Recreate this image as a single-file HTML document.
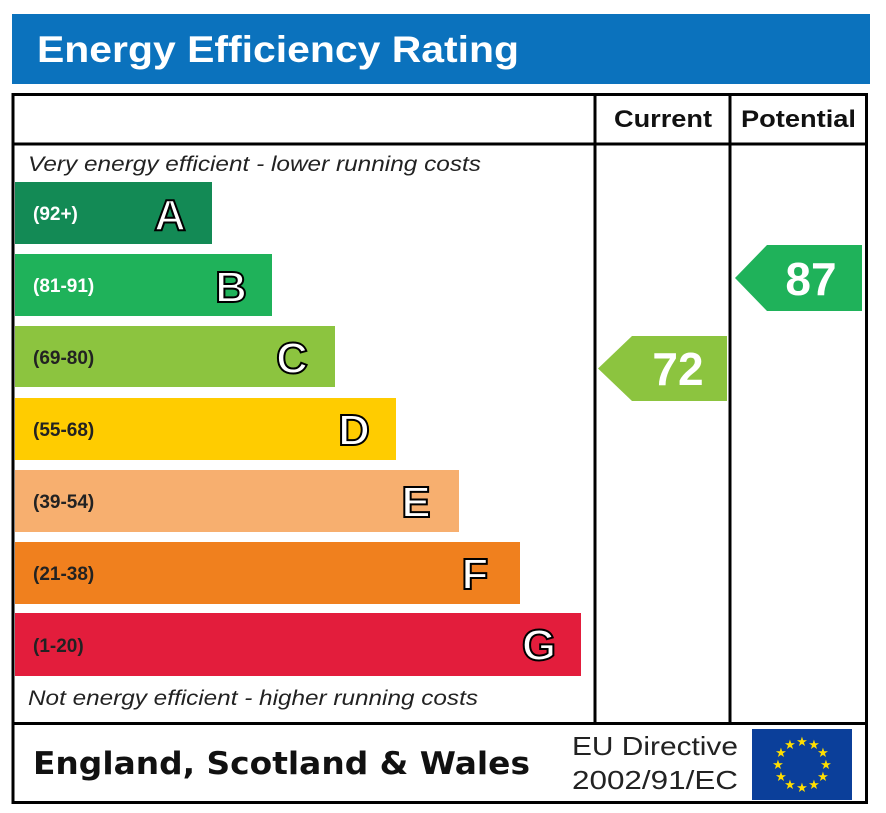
<!DOCTYPE html>
<html><head><meta charset="utf-8"><style>html,body{margin:0;padding:0;background:#fff}svg{display:block}text{font-family:"Liberation Sans",Arial,sans-serif}.dj{font-family:"DejaVu Sans",sans-serif}</style></head><body>
<svg width="886" height="813" viewBox="0 0 886 813" xmlns="http://www.w3.org/2000/svg">
<rect x="12" y="14" width="858" height="70" fill="#0b72bd"/>
<text x="37" y="62" font-size="37" font-weight="bold" fill="#fff" textLength="482" lengthAdjust="spacingAndGlyphs">Energy Efficiency Rating</text>
<rect x="13" y="94.5" width="853.5" height="708" fill="none" stroke="#000" stroke-width="3"/>
<line x1="13" y1="144" x2="866" y2="144" stroke="#000" stroke-width="3"/>
<line x1="595" y1="94" x2="595" y2="724" stroke="#000" stroke-width="3"/>
<line x1="730" y1="94" x2="730" y2="724" stroke="#000" stroke-width="3"/>
<line x1="13" y1="723.5" x2="866" y2="723.5" stroke="#000" stroke-width="3"/>
<text x="614" y="127" font-size="24" font-weight="bold" fill="#111" textLength="98" lengthAdjust="spacingAndGlyphs">Current</text>
<text x="741" y="127" font-size="24" font-weight="bold" fill="#111" textLength="115" lengthAdjust="spacingAndGlyphs">Potential</text>
<text x="28" y="171" font-size="21" font-style="italic" fill="#222" textLength="453" lengthAdjust="spacingAndGlyphs">Very energy efficient - lower running costs</text>
<text x="28" y="705" font-size="21" font-style="italic" fill="#222" textLength="450" lengthAdjust="spacingAndGlyphs">Not energy efficient - higher running costs</text>
<g font-weight="bold">
<rect x="15" y="182" width="197" height="62" fill="#138a55"/>
<text x="33" y="220" font-size="19" fill="#fff">(92+)</text>
<text x="170" y="230" font-size="44" fill="#fff" stroke="#000" stroke-width="2" text-anchor="middle">A</text>
<rect x="15" y="254" width="257" height="62" fill="#1fb25a"/>
<text x="33" y="292" font-size="19" fill="#fff">(81-91)</text>
<text x="231" y="302" font-size="44" fill="#fff" stroke="#000" stroke-width="2" text-anchor="middle">B</text>
<rect x="15" y="326" width="320" height="61" fill="#8cc43f"/>
<text x="33" y="364" font-size="19" fill="#222">(69-80)</text>
<text x="292" y="373" font-size="44" fill="#fff" stroke="#000" stroke-width="2" text-anchor="middle">C</text>
<rect x="15" y="398" width="381" height="62" fill="#ffcc00"/>
<text x="33" y="436" font-size="19" fill="#222">(55-68)</text>
<text x="354" y="445" font-size="44" fill="#fff" stroke="#000" stroke-width="2" text-anchor="middle">D</text>
<rect x="15" y="470" width="444" height="62" fill="#f7af6f"/>
<text x="33" y="508" font-size="19" fill="#222">(39-54)</text>
<text x="416" y="517" font-size="44" fill="#fff" stroke="#000" stroke-width="2" text-anchor="middle">E</text>
<rect x="15" y="542" width="505" height="62" fill="#f0801e"/>
<text x="33" y="580" font-size="19" fill="#222">(21-38)</text>
<text x="475" y="589" font-size="44" fill="#fff" stroke="#000" stroke-width="2" text-anchor="middle">F</text>
<rect x="15" y="613" width="566" height="63" fill="#e31d3c"/>
<text x="33" y="652" font-size="19" fill="#222">(1-20)</text>
<text x="539" y="660" font-size="44" fill="#fff" stroke="#000" stroke-width="2" text-anchor="middle">G</text>
<polygon points="598,368.5 632,336 727,336 727,401 632,401" fill="#8cc43f"/>
<text x="678" y="385" font-size="46" fill="#fff" text-anchor="middle">72</text>
<polygon points="735,278 767,245 862,245 862,311 767,311" fill="#1fb25a"/>
<text x="811" y="295" font-size="46" fill="#fff" text-anchor="middle">87</text>
</g>
<text class="dj" x="33" y="774" font-size="31" font-weight="bold" fill="#111" textLength="497" lengthAdjust="spacingAndGlyphs">England, Scotland &amp; Wales</text>
<text x="572" y="755" font-size="26" fill="#222" textLength="166" lengthAdjust="spacingAndGlyphs">EU Directive</text>
<text x="572" y="789" font-size="26" fill="#222" textLength="166" lengthAdjust="spacingAndGlyphs">2002/91/EC</text>
<rect x="752" y="729" width="100" height="71" fill="#0b3f9a"/>
<g fill="#ffde00" font-size="13" text-anchor="middle">
<text class="dj" x="802" y="746">★</text><text class="dj" x="814" y="749">★</text><text class="dj" x="823" y="757">★</text><text class="dj" x="826" y="769">★</text><text class="dj" x="823" y="781">★</text><text class="dj" x="814" y="789">★</text><text class="dj" x="802" y="792">★</text><text class="dj" x="790" y="789">★</text><text class="dj" x="781" y="781">★</text><text class="dj" x="778" y="769">★</text><text class="dj" x="781" y="757">★</text><text class="dj" x="790" y="749">★</text>
</g>
</svg>
</body></html>
